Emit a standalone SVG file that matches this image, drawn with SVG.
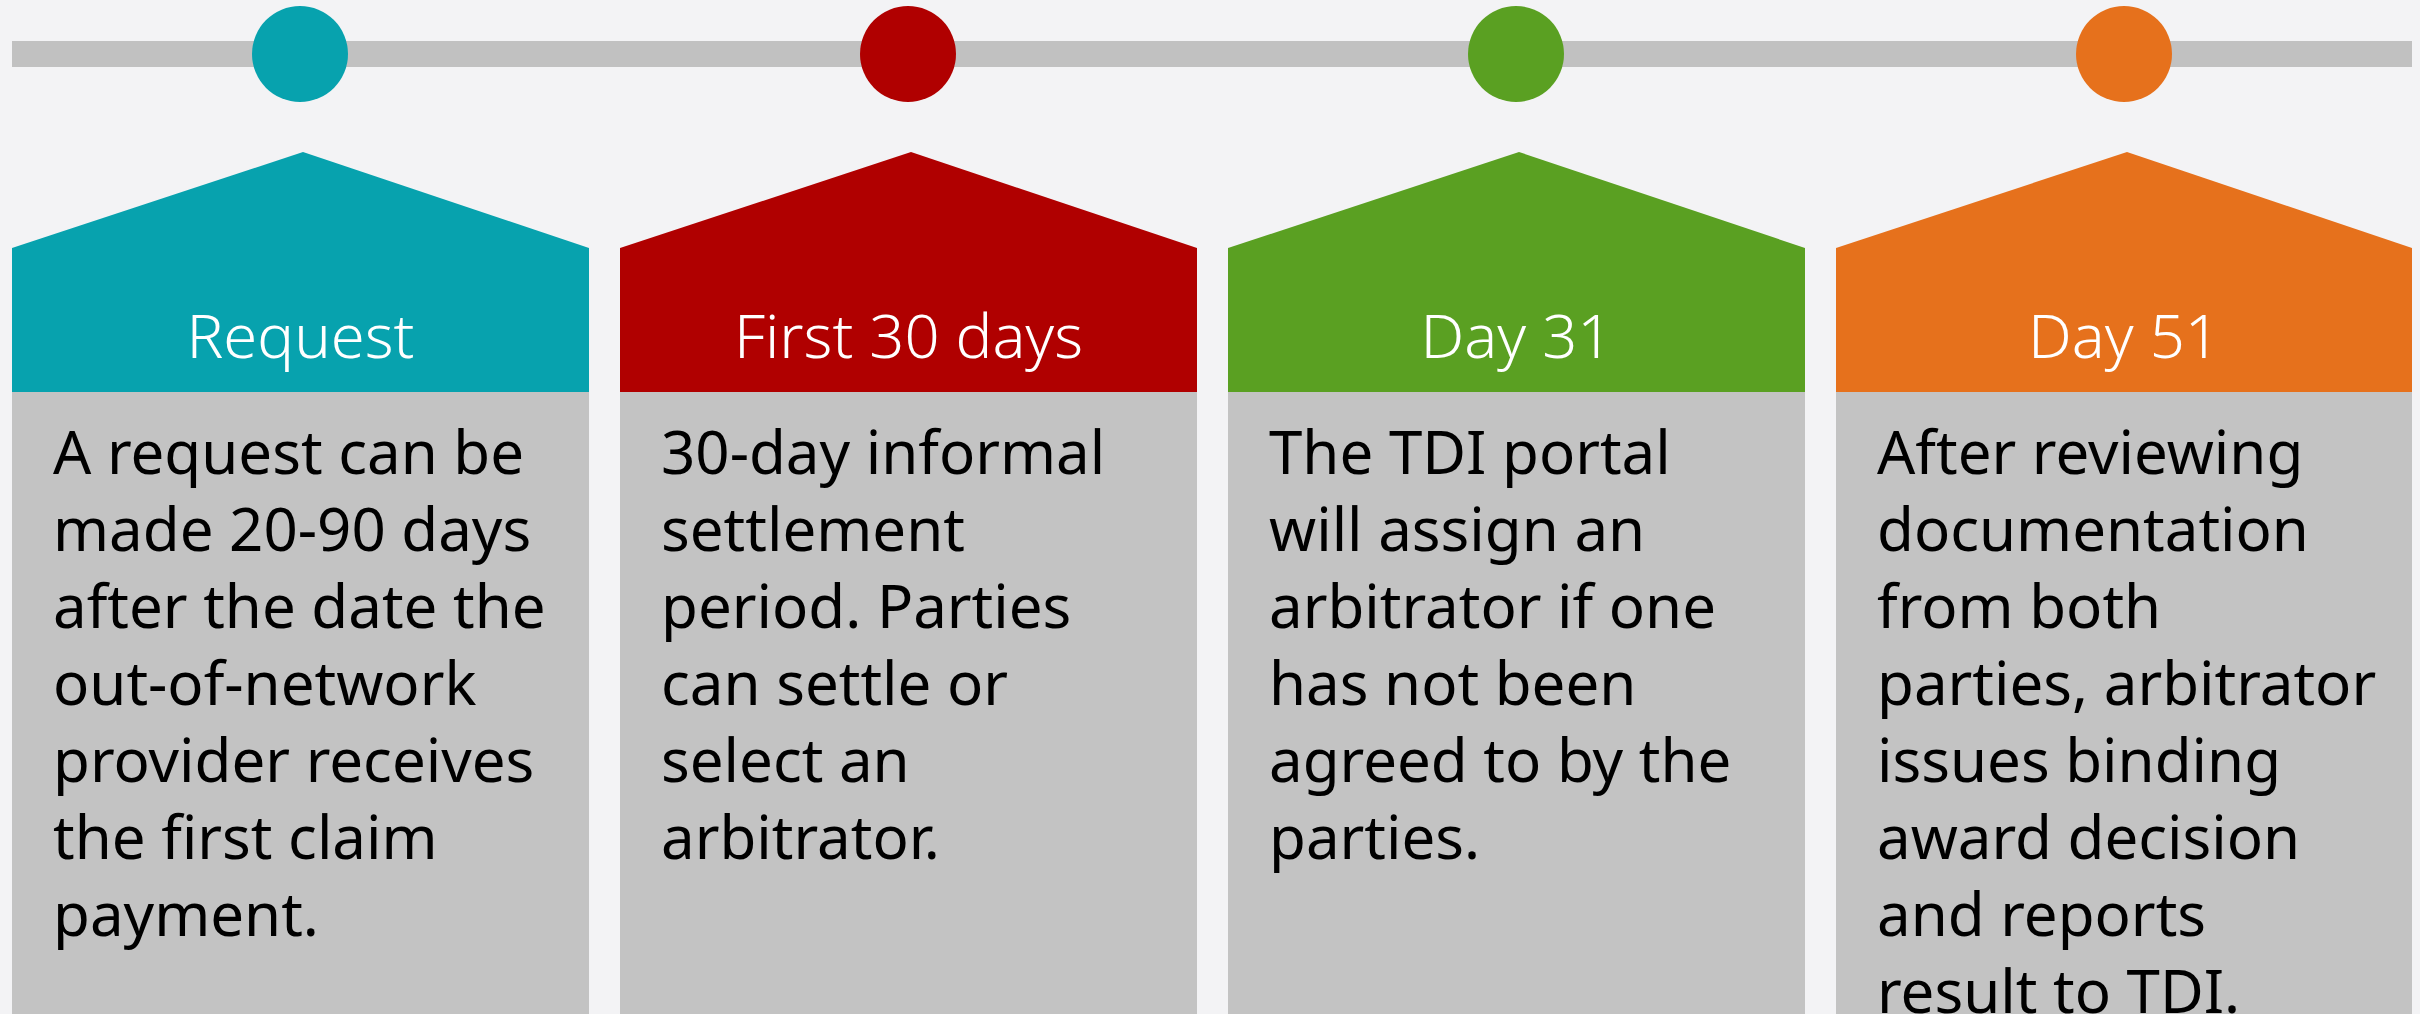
<svg xmlns="http://www.w3.org/2000/svg" width="2420" height="1014" viewBox="0 0 2420 1014">
<style>
.bg{fill:#F3F3F5}
.bar{fill:#C1C1C1}
.body{fill:#C3C3C3}
.hd{font-family:"Noto Sans","Open Sans","Liberation Sans",sans-serif;font-size:61.5px;font-weight:300;fill:#FFFFFF;text-anchor:middle}
.tx{font-family:"Noto Sans","Open Sans","Liberation Sans",sans-serif;font-size:60px;fill:#000000}
.teal{fill:#07A2AE}
.red{fill:#B00000}
.green{fill:#5AA022}
.orange{fill:#E6711C}
</style>
<rect class="bg" x="0" y="0" width="2420" height="1014"/>
<g id="timeline">
<rect class="bar" x="12" y="41" width="2400" height="26"/>
</g>
<g id="connectors"></g>
<g id="node-request">
<circle class="teal" cx="300" cy="54" r="48"/>
<polygon class="teal" points="12,248 303,152 589,248 589,392 12,392"/>
<rect class="body" x="12" y="392" width="577" height="622"/>
<text class="hd" x="300.5" y="358">Request</text>
<text class="tx" x="53">
<tspan x="53" y="474">A request can be</tspan>
<tspan x="53" y="551">made 20-90 days</tspan>
<tspan x="53" y="628">after the date the</tspan>
<tspan x="53" y="705">out-of-network</tspan>
<tspan x="53" y="782">provider receives</tspan>
<tspan x="53" y="859">the first claim</tspan>
<tspan x="53" y="936">payment.</tspan>
</text>
</g>
<g id="node-first30">
<circle class="red" cx="908" cy="54" r="48"/>
<polygon class="red" points="620,248 911,152 1197,248 1197,392 620,392"/>
<rect class="body" x="620" y="392" width="577" height="622"/>
<text class="hd" x="908.5" y="358">First 30 days</text>
<text class="tx" x="661">
<tspan x="661" y="474">30-day informal</tspan>
<tspan x="661" y="551">settlement</tspan>
<tspan x="661" y="628">period. Parties</tspan>
<tspan x="661" y="705">can settle or</tspan>
<tspan x="661" y="782">select an</tspan>
<tspan x="661" y="859">arbitrator.</tspan>
</text>
</g>
<g id="node-day31">
<circle class="green" cx="1516" cy="54" r="48"/>
<polygon class="green" points="1228,248 1519,152 1805,248 1805,392 1228,392"/>
<rect class="body" x="1228" y="392" width="577" height="622"/>
<text class="hd" x="1516.5" y="358">Day 31</text>
<text class="tx" x="1269">
<tspan x="1269" y="474">The TDI portal</tspan>
<tspan x="1269" y="551">will assign an</tspan>
<tspan x="1269" y="628">arbitrator if one</tspan>
<tspan x="1269" y="705">has not been</tspan>
<tspan x="1269" y="782">agreed to by the</tspan>
<tspan x="1269" y="859">parties.</tspan>
</text>
</g>
<g id="node-day51">
<circle class="orange" cx="2124" cy="54" r="48"/>
<polygon class="orange" points="1836,248 2127,152 2412,248 2412,392 1836,392"/>
<rect class="body" x="1836" y="392" width="576" height="622"/>
<text class="hd" x="2124" y="358">Day 51</text>
<text class="tx" x="1877">
<tspan x="1877" y="474">After reviewing</tspan>
<tspan x="1877" y="551">documentation</tspan>
<tspan x="1877" y="628">from both</tspan>
<tspan x="1877" y="705">parties, arbitrator</tspan>
<tspan x="1877" y="782">issues binding</tspan>
<tspan x="1877" y="859">award decision</tspan>
<tspan x="1877" y="936">and reports</tspan>
<tspan x="1877" y="1013">result to TDI.</tspan>
</text>
</g>
</svg>
